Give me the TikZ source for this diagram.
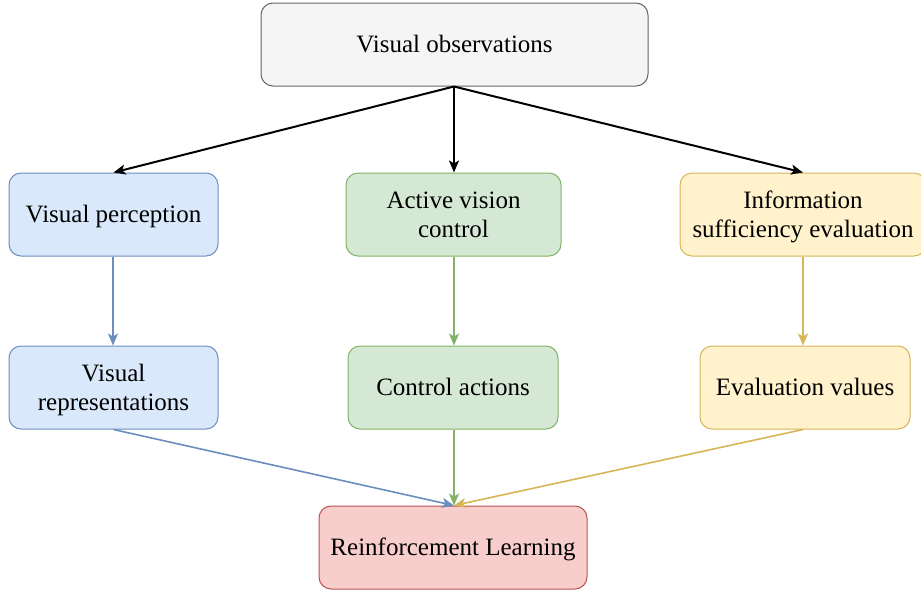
\documentclass[tikz,border=0pt]{standalone}
\usepackage{fontspec}
\setmainfont{Liberation Serif}
\usetikzlibrary{arrows.meta}
\definecolor{grayfill}{HTML}{F5F5F5}
\definecolor{graydraw}{HTML}{666666}
\definecolor{bluefill}{HTML}{DAE8FC}
\definecolor{bluedraw}{HTML}{6C8EBF}
\definecolor{greenfill}{HTML}{D5E8D4}
\definecolor{greendraw}{HTML}{82B366}
\definecolor{yellowfill}{HTML}{FFF2CC}
\definecolor{yellowdraw}{HTML}{D6B656}
\definecolor{redfill}{HTML}{F8CECC}
\definecolor{reddraw}{HTML}{B85450}
% invisible strut giving every text line the full ascent and descent of the font
\newcommand{\ls}{\rule[-5.4pt]{0pt}{27.7pt}}
\tikzset{
  box/.style={rectangle, rounded corners=12pt, line width=1pt, align=center,
    minimum height=83pt, inner sep=0pt,
    font=\fontsize{25}{29.5}\selectfont},
  graybox/.style={box, fill=grayfill, draw=graydraw},
  bluebox/.style={box, fill=bluefill, draw=bluedraw},
  greenbox/.style={box, fill=greenfill, draw=greendraw},
  yellowbox/.style={box, fill=yellowfill, draw=yellowdraw},
  redbox/.style={box, fill=redfill, draw=reddraw},
  link/.style={-{Stealth[length=12pt,width=10pt,inset=3pt]}, line width=1.6pt},
}
\begin{document}
\begin{tikzpicture}[x=1pt,y=-1pt]
\clip (0,0) rectangle (921,590);
\fill[white] (0,0) rectangle (921,590);

\node[graybox, minimum width=387pt] (obs) at (454.5,44.5) {\ls Visual observations};

\node[bluebox, minimum width=209pt] (perc) at (113.5,214.5) {\ls Visual perception};
\node[greenbox, minimum width=215pt] (act) at (453.5,214.5) {\ls Active vision\\\ls control};
\node[yellowbox, minimum width=246pt] (info) at (803,214.5) {\ls Information\\\ls sufficiency evaluation};

\node[bluebox, minimum width=209pt] (rep) at (113.5,387.5) {\ls Visual\\\ls representations};
\node[greenbox, minimum width=210pt] (ctl) at (453,387.5) {\ls Control actions};
\node[yellowbox, minimum width=210pt] (eval) at (805,387.5) {\ls Evaluation values};

\node[redbox, minimum width=268pt] (rl) at (453,547.5) {\ls Reinforcement Learning};

% points where the connectors meet the boxes
\coordinate (obsout) at ([xshift=-0.5pt]obs.south);
\coordinate (rlin) at ([xshift=1pt]rl.north);

\draw[link, black, line width=2pt] (obsout) -- (perc.north);
\draw[link, black, line width=2pt] (obsout) -- ([xshift=0.5pt]act.north);
\draw[link, black, line width=2pt] (obsout) -- (info.north);

\draw[link, bluedraw] ([xshift=-0.5pt]perc.south) -- ([xshift=-0.5pt]rep.north);
\draw[link, greendraw] ([xshift=0.5pt]act.south) -- ([xshift=1pt]ctl.north);
\draw[link, yellowdraw] (info.south) -- (info.south |- eval.north);

\draw[link, bluedraw] (rep.south) -- (rlin);
\draw[link, greendraw] ([xshift=1pt]ctl.south) -- (rlin);
\draw[link, yellowdraw] (info.south |- eval.south) -- (rlin);
\end{tikzpicture}
\end{document}
